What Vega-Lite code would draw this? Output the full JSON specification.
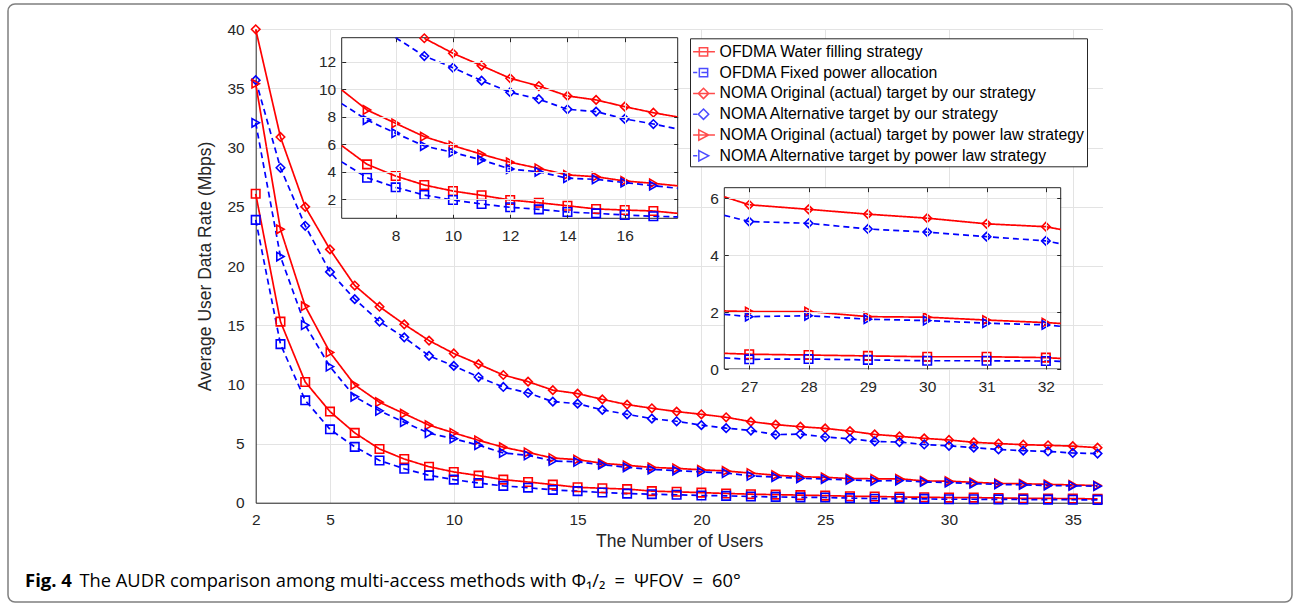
{
  "$schema": "https://vega.github.io/schema/vega-lite/v6.json",
  "width": 1284,
  "height": 598,
  "autosize": {"type": "none"},
  "padding": {"left": 8, "top": 4, "right": 2, "bottom": 2},
  "background": "white",
  "title": {
    "text": "Fig. 4",
    "orient": "bottom",
    "anchor": "start",
    "frame": "group",
    "baseline": "alphabetic",
    "offset": -15.3,
    "dx": 17,
    "font": "Open Sans",
    "fontSize": 18.5,
    "fontWeight": "bold",
    "color": "#000000"
  },
  "data": {
    "values": [
      {"x": 2, "WF": 26.1, "FP": 23.9, "OO": 40.0, "AO": 35.7, "OP": 35.4, "AP": 32.1},
      {"x": 3, "WF": 15.3, "FP": 13.4, "OO": 30.9, "AO": 28.3, "OP": 23.1, "AP": 20.8},
      {"x": 4, "WF": 10.2, "FP": 8.65, "OO": 25.0, "AO": 23.4, "OP": 16.6, "AP": 15.0},
      {"x": 5, "WF": 7.7, "FP": 6.2, "OO": 21.4, "AO": 19.5, "OP": 12.7, "AP": 11.5},
      {"x": 6, "WF": 5.9, "FP": 4.72, "OO": 18.35, "AO": 17.2, "OP": 9.95, "AP": 8.95},
      {"x": 7, "WF": 4.54, "FP": 3.57, "OO": 16.56, "AO": 15.3, "OP": 8.49, "AP": 7.76},
      {"x": 8, "WF": 3.69, "FP": 2.87, "OO": 15.07, "AO": 13.97, "OP": 7.52, "AP": 6.8},
      {"x": 9, "WF": 3.04, "FP": 2.31, "OO": 13.7, "AO": 12.41, "OP": 6.55, "AP": 5.87},
      {"x": 10, "WF": 2.6, "FP": 1.95, "OO": 12.61, "AO": 11.56, "OP": 5.9, "AP": 5.41},
      {"x": 11, "WF": 2.29, "FP": 1.66, "OO": 11.71, "AO": 10.62, "OP": 5.27, "AP": 4.86},
      {"x": 12, "WF": 1.95, "FP": 1.42, "OO": 10.79, "AO": 9.78, "OP": 4.69, "AP": 4.2},
      {"x": 13, "WF": 1.75, "FP": 1.27, "OO": 10.23, "AO": 9.27, "OP": 4.25, "AP": 4.0},
      {"x": 14, "WF": 1.53, "FP": 1.08, "OO": 9.51, "AO": 8.54, "OP": 3.77, "AP": 3.53},
      {"x": 15, "WF": 1.3, "FP": 0.98, "OO": 9.22, "AO": 8.37, "OP": 3.64, "AP": 3.45},
      {"x": 16, "WF": 1.22, "FP": 0.86, "OO": 8.73, "AO": 7.84, "OP": 3.33, "AP": 3.21},
      {"x": 17, "WF": 1.15, "FP": 0.77, "OO": 8.29, "AO": 7.47, "OP": 3.16, "AP": 2.99},
      {"x": 18, "WF": 0.98, "FP": 0.72, "OO": 7.98, "AO": 7.1, "OP": 2.98, "AP": 2.8},
      {"x": 19, "WF": 0.92, "FP": 0.67, "OO": 7.7, "AO": 6.88, "OP": 2.9, "AP": 2.72},
      {"x": 20, "WF": 0.85, "FP": 0.61, "OO": 7.47, "AO": 6.55, "OP": 2.78, "AP": 2.6},
      {"x": 21, "WF": 0.78, "FP": 0.58, "OO": 7.22, "AO": 6.3, "OP": 2.68, "AP": 2.5},
      {"x": 22, "WF": 0.72, "FP": 0.52, "OO": 6.85, "AO": 6.1, "OP": 2.5, "AP": 2.27},
      {"x": 23, "WF": 0.68, "FP": 0.49, "OO": 6.6, "AO": 5.75, "OP": 2.32, "AP": 2.16},
      {"x": 24, "WF": 0.64, "FP": 0.45, "OO": 6.42, "AO": 5.8, "OP": 2.2, "AP": 2.06},
      {"x": 25, "WF": 0.6, "FP": 0.44, "OO": 6.28, "AO": 5.55, "OP": 2.14, "AP": 2.0},
      {"x": 26, "WF": 0.55, "FP": 0.39, "OO": 6.05, "AO": 5.4, "OP": 2.04, "AP": 1.92},
      {"x": 27, "WF": 0.52, "FP": 0.34, "OO": 5.77, "AO": 5.18, "OP": 2.02, "AP": 1.84},
      {"x": 28, "WF": 0.49, "FP": 0.35, "OO": 5.61, "AO": 5.12, "OP": 2.02, "AP": 1.87},
      {"x": 29, "WF": 0.46, "FP": 0.32, "OO": 5.44, "AO": 4.92, "OP": 1.84, "AP": 1.75},
      {"x": 30, "WF": 0.43, "FP": 0.29, "OO": 5.3, "AO": 4.81, "OP": 1.82, "AP": 1.7},
      {"x": 31, "WF": 0.43, "FP": 0.29, "OO": 5.1, "AO": 4.65, "OP": 1.72, "AP": 1.61},
      {"x": 32, "WF": 0.4, "FP": 0.28, "OO": 5.0, "AO": 4.5, "OP": 1.63, "AP": 1.55},
      {"x": 33, "WF": 0.37, "FP": 0.27, "OO": 4.9, "AO": 4.4, "OP": 1.6, "AP": 1.5},
      {"x": 34, "WF": 0.36, "FP": 0.26, "OO": 4.85, "AO": 4.33, "OP": 1.55, "AP": 1.45},
      {"x": 35, "WF": 0.35, "FP": 0.25, "OO": 4.78, "AO": 4.2, "OP": 1.5, "AP": 1.42},
      {"x": 36, "WF": 0.32, "FP": 0.24, "OO": 4.65, "AO": 4.15, "OP": 1.45, "AP": 1.4}
    ]
  },
  "transform": [{"fold": ["WF", "FP", "OO", "AO", "OP", "AP"], "as": ["s", "v"]}],
  "layer": [
    {
      "mark": {"type": "line", "strokeWidth": 1.7},
      "encoding": {
        "x": {"field": "x", "type": "quantitative",
          "scale": {"domain": [2, 36.2], "range": [247.7, 1094.5], "nice": false, "zero": false},
          "axis": {"orient": "top", "offset": 0, "grid": true, "labels": false, "ticks": false, "domain": false, "title": null, "values": [5, 10, 15, 20, 25, 30, 35]}},
        "y": {"field": "v", "type": "quantitative",
          "scale": {"domain": [0, 40], "range": [498.7, 25.3], "nice": false, "zero": false},
          "axis": {"orient": "left", "offset": -247.7, "grid": true, "ticks": false, "domain": true, "values": [0, 5, 10, 15, 20, 25, 30, 35, 40], "labelPadding": 11.5, "labelAlign": "right", "title": "Average User Data Rate (Mbps)", "titleFontSize": 17.5, "titleX": -45.2, "titleBaseline": "alphabetic"}},
        "color": {"field": "s", "type": "nominal", "scale": {"domain": ["WF", "FP", "OO", "AO", "OP", "AP"], "range": ["#ff0000", "#0000ff", "#ff0000", "#0000ff", "#ff0000", "#0000ff"]}, "legend": null},
        "strokeDash": {"field": "s", "type": "nominal", "scale": {"domain": ["WF", "FP", "OO", "AO", "OP", "AP"], "range": [[1, 0], [6, 4], [1, 0], [6, 4], [1, 0], [6, 4]]}, "legend": null}
      }
    },
    {
      "mark": {"type": "point", "filled": false, "strokeWidth": 1.6, "opacity": 1},
      "encoding": {
        "x": {"field": "x", "type": "quantitative",
          "scale": {"domain": [2, 36.2], "range": [247.7, 1094.5], "nice": false, "zero": false},
          "axis": {"orient": "bottom", "offset": -99.3, "grid": false, "ticks": false, "domain": true, "labelFlush": false, "values": [2, 5, 10, 15, 20, 25, 30, 35], "labelPadding": 9.5, "title": "The Number of Users", "titleFontSize": 17.5, "titleY": 44, "titleBaseline": "alphabetic"}},
        "y": {"field": "v", "type": "quantitative",
          "scale": {"domain": [0, 40], "range": [498.7, 25.3], "nice": false, "zero": false}, "axis": null},
        "color": {"field": "s", "type": "nominal", "scale": {"domain": ["WF", "FP", "OO", "AO", "OP", "AP"], "range": ["#ff0000", "#0000ff", "#ff0000", "#0000ff", "#ff0000", "#0000ff"]}, "legend": null},
        "shape": {"field": "s", "type": "nominal", "scale": {"domain": ["WF", "FP", "OO", "AO", "OP", "AP"], "range": ["square", "square", "diamond", "diamond", "triangle-right", "triangle-right"]}, "legend": null},
        "size": {"field": "s", "type": "nominal", "scale": {"domain": ["WF", "FP", "OO", "AO", "OP", "AP"], "range": [72, 72, 130, 130, 125, 125]}, "legend": null}
      }
    },
    {
      "data": {"values": [{}]},
      "mark": {"type": "rect", "fill": "white", "stroke": "#262626", "strokeWidth": 1},
      "encoding": {
        "x": {"datum": 6.115, "type": "quantitative", "scale": {"domain": [6.115, 17.85], "range": [333.7, 669.7], "nice": false, "zero": false}, "axis": null},
        "x2": {"datum": 17.85},
        "y": {"datum": 0.62, "type": "quantitative", "scale": {"domain": [0.62, 13.74], "range": [214.3, 33.7], "nice": false, "zero": false},
          "axis": {"orient": "right", "offset": -614.3, "grid": false, "labels": false, "ticks": true, "tickSize": -4, "domain": false, "title": null, "values": [2, 4, 6, 8, 10, 12], "zindex": 1}},
        "y2": {"datum": 13.74}
      }
    },
    {
      "transform": [{"filter": "datum.x >= 6 && datum.x <= 18 && datum.v <= 14.5"}],
      "mark": {"type": "line", "strokeWidth": 1.7},
      "encoding": {
        "x": {"field": "x", "type": "quantitative",
          "scale": {"domain": [6.115, 17.85], "range": [333.7, 669.7], "nice": false, "zero": false, "clamp": true},
          "axis": {"orient": "top", "offset": -33.7, "grid": true, "labels": false, "ticks": true, "tickSize": -4, "domain": false, "title": null, "values": [8, 10, 12, 14, 16], "zindex": 1}},
        "y": {"field": "v", "type": "quantitative",
          "scale": {"domain": [0.62, 13.74], "range": [214.3, 33.7], "nice": false, "zero": false, "clamp": true},
          "axis": {"orient": "left", "offset": -333.7, "grid": true, "labels": false, "ticks": true, "tickSize": -4, "domain": false, "title": null, "values": [2, 4, 6, 8, 10, 12], "zindex": 1}},
        "color": {"field": "s", "type": "nominal", "scale": {"domain": ["WF", "FP", "OO", "AO", "OP", "AP"], "range": ["#ff0000", "#0000ff", "#ff0000", "#0000ff", "#ff0000", "#0000ff"]}, "legend": null},
        "strokeDash": {"field": "s", "type": "nominal", "scale": {"domain": ["WF", "FP", "OO", "AO", "OP", "AP"], "range": [[1, 0], [6, 4], [1, 0], [6, 4], [1, 0], [6, 4]]}, "legend": null}
      }
    },
    {
      "transform": [{"filter": "datum.x >= 7 && datum.x <= 17 && datum.v <= 13.74"}],
      "mark": {"type": "point", "filled": false, "strokeWidth": 1.6, "opacity": 1},
      "encoding": {
        "x": {"field": "x", "type": "quantitative",
          "scale": {"domain": [6.115, 17.85], "range": [333.7, 669.7], "nice": false, "zero": false},
          "axis": {"orient": "bottom", "offset": -383.7, "grid": false, "ticks": true, "tickSize": -4, "domain": false, "labelFlush": false, "labelPadding": 14, "title": null, "values": [8, 10, 12, 14, 16], "zindex": 1}},
        "y": {"field": "v", "type": "quantitative",
          "scale": {"domain": [0.62, 13.74], "range": [214.3, 33.7], "nice": false, "zero": false},
          "axis": {"orient": "left", "offset": -333.7, "grid": false, "labels": true, "ticks": false, "domain": false, "labelPadding": 6, "labelAlign": "right", "title": null, "values": [2, 4, 6, 8, 10, 12], "zindex": 1}},
        "color": {"field": "s", "type": "nominal", "scale": {"domain": ["WF", "FP", "OO", "AO", "OP", "AP"], "range": ["#ff0000", "#0000ff", "#ff0000", "#0000ff", "#ff0000", "#0000ff"]}, "legend": null},
        "shape": {"field": "s", "type": "nominal", "scale": {"domain": ["WF", "FP", "OO", "AO", "OP", "AP"], "range": ["square", "square", "diamond", "diamond", "triangle-right", "triangle-right"]}, "legend": null},
        "size": {"field": "s", "type": "nominal", "scale": {"domain": ["WF", "FP", "OO", "AO", "OP", "AP"], "range": [72, 72, 130, 130, 125, 125]}, "legend": null}
      }
    },
    {
      "data": {"values": [{}]},
      "mark": {"type": "rect", "fill": "white", "stroke": "#262626", "strokeWidth": 1},
      "encoding": {
        "x": {"datum": 26.58, "type": "quantitative", "scale": {"domain": [26.58, 32.25], "range": [716.3, 1052.7], "nice": false, "zero": false}, "axis": null},
        "x2": {"datum": 32.25},
        "y": {"datum": 0, "type": "quantitative", "scale": {"domain": [0, 6.37], "range": [365, 183.7], "nice": false, "zero": false},
          "axis": {"orient": "right", "offset": -231.3, "grid": false, "labels": false, "ticks": true, "tickSize": -4, "domain": false, "title": null, "values": [0, 2, 4, 6], "zindex": 1}},
        "y2": {"datum": 6.37}
      }
    },
    {
      "transform": [{"filter": "datum.x >= 26 && datum.x <= 33"}],
      "mark": {"type": "line", "strokeWidth": 1.7},
      "encoding": {
        "x": {"field": "x", "type": "quantitative",
          "scale": {"domain": [26.58, 32.25], "range": [716.3, 1052.7], "nice": false, "zero": false, "clamp": true},
          "axis": {"orient": "top", "offset": -183.7, "grid": true, "labels": false, "ticks": true, "tickSize": -4, "domain": false, "title": null, "values": [27, 28, 29, 30, 31, 32], "zindex": 1}},
        "y": {"field": "v", "type": "quantitative",
          "scale": {"domain": [0, 6.37], "range": [365, 183.7], "nice": false, "zero": false},
          "axis": {"orient": "left", "offset": -716.3, "grid": true, "labels": false, "ticks": true, "tickSize": -4, "domain": false, "title": null, "values": [0, 2, 4, 6], "zindex": 1}},
        "color": {"field": "s", "type": "nominal", "scale": {"domain": ["WF", "FP", "OO", "AO", "OP", "AP"], "range": ["#ff0000", "#0000ff", "#ff0000", "#0000ff", "#ff0000", "#0000ff"]}, "legend": null},
        "strokeDash": {"field": "s", "type": "nominal", "scale": {"domain": ["WF", "FP", "OO", "AO", "OP", "AP"], "range": [[1, 0], [6, 4], [1, 0], [6, 4], [1, 0], [6, 4]]}, "legend": null}
      }
    },
    {
      "transform": [{"filter": "datum.x >= 27 && datum.x <= 32"}],
      "mark": {"type": "point", "filled": false, "strokeWidth": 1.6, "opacity": 1},
      "encoding": {
        "x": {"field": "x", "type": "quantitative",
          "scale": {"domain": [26.58, 32.25], "range": [716.3, 1052.7], "nice": false, "zero": false},
          "axis": {"orient": "bottom", "offset": -233, "grid": false, "ticks": true, "tickSize": -4, "domain": false, "labelFlush": false, "labelPadding": 14, "title": null, "values": [27, 28, 29, 30, 31, 32], "zindex": 1}},
        "y": {"field": "v", "type": "quantitative",
          "scale": {"domain": [0, 6.37], "range": [365, 183.7], "nice": false, "zero": false},
          "axis": {"orient": "left", "offset": -716.3, "grid": false, "labels": true, "ticks": false, "domain": false, "labelPadding": 6, "labelAlign": "right", "title": null, "values": [0, 2, 4, 6], "zindex": 1}},
        "color": {"field": "s", "type": "nominal", "scale": {"domain": ["WF", "FP", "OO", "AO", "OP", "AP"], "range": ["#ff0000", "#0000ff", "#ff0000", "#0000ff", "#ff0000", "#0000ff"]}, "legend": null},
        "shape": {"field": "s", "type": "nominal", "scale": {"domain": ["WF", "FP", "OO", "AO", "OP", "AP"], "range": ["square", "square", "diamond", "diamond", "triangle-right", "triangle-right"]}, "legend": null},
        "size": {"field": "s", "type": "nominal", "scale": {"domain": ["WF", "FP", "OO", "AO", "OP", "AP"], "range": [72, 72, 130, 130, 125, 125]}, "legend": null}
      }
    },
    {
      "transform": [{"filter": "datum.x < 0"}],
      "mark": {"type": "point", "filled": false, "strokeWidth": 1.5},
      "encoding": {
        "x": {"field": "x", "type": "quantitative", "scale": {"domain": [2, 36.2], "range": [247.7, 1094.5], "nice": false, "zero": false},
          "axis": {"orient": "bottom", "offset": 0, "grid": false, "labels": false, "ticks": false, "domain": false,
            "title": "The AUDR comparison among multi-access methods with \u03a6\u2081/\u2082\u2002=\u2002\u03a8FOV\u2002=\u200260\u00b0",
            "titleX": 71, "titleY": -15.3, "titleAlign": "left", "titleAnchor": "start", "titleBaseline": "alphabetic",
            "titleFont": "Open Sans", "titleFontSize": 18.3, "titleFontWeight": "normal", "titleColor": "#000000", "titleLimit": 0}},
        "y": {"field": "v", "type": "quantitative", "scale": {"domain": [0, 40], "range": [498.7, 25.3], "nice": false, "zero": false}, "axis": null},
        "color": {"field": "s", "type": "nominal",
          "scale": {"domain": ["WF", "FP", "OO", "AO", "OP", "AP"], "range": ["#ff0000", "#0000ff", "#ff0000", "#0000ff", "#ff0000", "#0000ff"]},
          "legend": {"orient": "none", "legendX": 682, "legendY": 34.3, "title": null, "padding": 2, "rowPadding": 0.8, "symbolSize": 433, "symbolStrokeWidth": 1.5, "labelFont": "Liberation Sans", "labelFontSize": 15.8, "labelColor": "#000000", "labelOffset": 4.6, "labelLimit": 0, "strokeColor": "#262626", "fillColor": "white", "zindex": 1,
            "labelExpr": "{'WF':'OFDMA Water filling strategy','FP':'OFDMA Fixed power allocation','OO':'NOMA Original (actual) target by our strategy','AO':'NOMA Alternative target by our strategy','OP':'NOMA Original (actual) target by power law strategy','AP':'NOMA Alternative target by power law strategy'}[datum.label]"}},
        "shape": {"field": "s", "type": "nominal",
          "scale": {"domain": ["WF", "FP", "OO", "AO", "OP", "AP"], "range": [
            "M-1,0H1.1M-0.4,-0.4H0.4V0.4H-0.4Z",
            "M-1,0H-0.6M-0.4,-0.4H0.4V0.4H-0.4ZM-0.2,0H0.4",
            "M-1,0H1.1M0,-0.5L0.5,0L0,0.5L-0.5,0Z",
            "M-1,0H-0.6M0,-0.5L0.5,0L0,0.5L-0.5,0Z",
            "M-1,0H1.1M-0.45,-0.5L0.5,0L-0.45,0.5Z",
            "M-1,0H-0.6M-0.45,-0.5L0.5,0L-0.45,0.5Z"
          ]},
          "legend": {"orient": "none", "legendX": 682, "legendY": 34.3, "title": null, "padding": 2, "rowPadding": 0.8, "symbolSize": 433, "symbolStrokeWidth": 1.5, "labelFont": "Liberation Sans", "labelFontSize": 15.8, "labelColor": "#000000", "labelOffset": 4.6, "labelLimit": 0, "strokeColor": "#262626", "fillColor": "white", "zindex": 1,
            "labelExpr": "{'WF':'OFDMA Water filling strategy','FP':'OFDMA Fixed power allocation','OO':'NOMA Original (actual) target by our strategy','AO':'NOMA Alternative target by our strategy','OP':'NOMA Original (actual) target by power law strategy','AP':'NOMA Alternative target by power law strategy'}[datum.label]"}}
      }
    }
  ],
  "resolve": {
    "scale": {"x": "independent", "y": "independent", "color": "independent", "shape": "independent"},
    "axis": {"x": "independent", "y": "independent"}
  },
  "config": {
    "view": {"stroke": "#7f7f7f", "strokeWidth": 1.5, "cornerRadius": 7},
    "axis": {
      "labelFont": "Liberation Sans",
      "titleFont": "Liberation Sans",
      "labelFontSize": 15.5,
      "labelColor": "#262626",
      "titleColor": "#262626",
      "titleFontWeight": "normal",
      "domainColor": "#262626",
      "domainWidth": 1,
      "tickColor": "#262626",
      "tickWidth": 1,
      "gridColor": "#e3e3e3",
      "gridOpacity": 1,
      "gridWidth": 1,
      "labelFlush": false
    }
  }
}
